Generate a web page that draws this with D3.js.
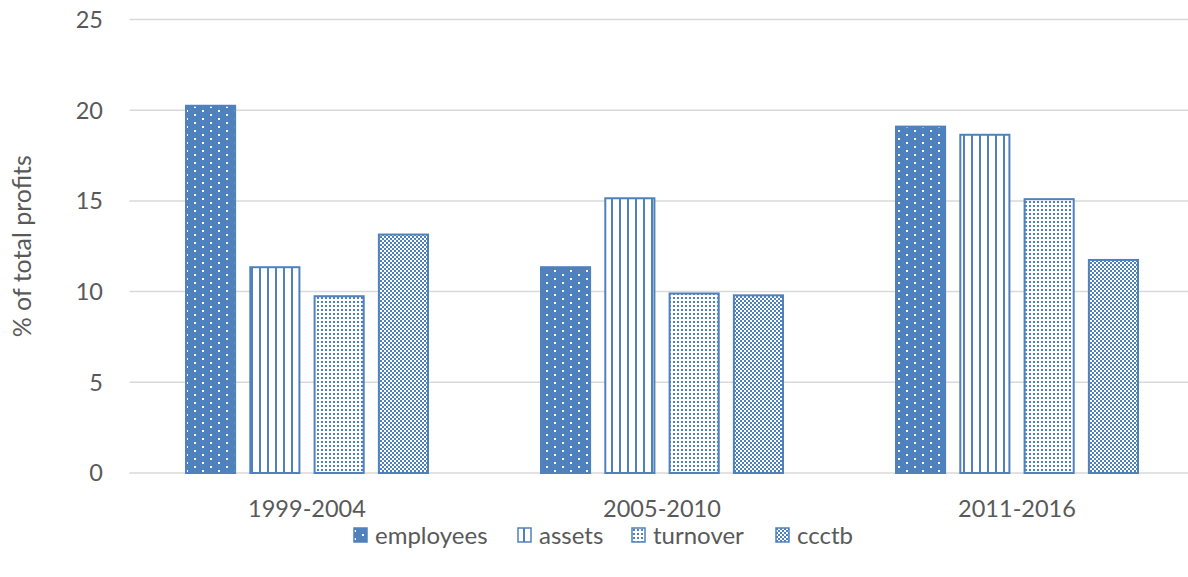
<!DOCTYPE html>
<html><head><meta charset="utf-8">
<script src="https://cdn.jsdelivr.net/npm/d3@7"></script>
<style>body{margin:0;background:#fff}svg{display:block}</style>
</head><body>
<script>
const categories = ["1999-2004", "2005-2010", "2011-2016"];
const seriesNames = ["employees", "assets", "turnover", "ccctb"];
const employees = [20.3, 11.4, 19.15];
const assets = [11.4, 15.2, 18.7];
const turnover = [9.8, 9.95, 15.15];
const ccctb = [13.2, 9.85, 11.8];
const yTicks = [0, 5, 10, 15, 20, 25];
const values = {employees, assets, turnover, ccctb};

(function(){
const W = 1188, H = 577;
const blue = "#4f81bd";
const font = "Lato, 'Open Sans', sans-serif";
const svg = d3.select("body").append("svg").attr("width", W).attr("height", H);
const defs = svg.append("defs");

// patterns
let p = defs.append("pattern").attr("id","p-employees").attr("patternUnits","userSpaceOnUse").attr("width",16).attr("height",8);
p.append("rect").attr("width",16).attr("height",8).attr("fill",blue);
p.append("rect").attr("x",2).attr("y",2).attr("width",2).attr("height",2).attr("fill","#fff");
p.append("rect").attr("x",10).attr("y",6).attr("width",2).attr("height",2).attr("fill","#fff");

p = defs.append("pattern").attr("id","p-assets").attr("patternUnits","userSpaceOnUse").attr("width",8).attr("height",8);
p.append("rect").attr("width",8).attr("height",8).attr("fill","#fff");
p.append("rect").attr("x",3).attr("width",2).attr("height",8).attr("fill",blue);

p = defs.append("pattern").attr("id","p-turnover").attr("patternUnits","userSpaceOnUse").attr("width",4).attr("height",4);
p.append("rect").attr("width",4).attr("height",4).attr("fill","#fff");
p.append("rect").attr("x",1).attr("y",1).attr("width",2).attr("height",2).attr("fill",blue);

p = defs.append("pattern").attr("id","p-ccctb").attr("patternUnits","userSpaceOnUse").attr("width",4).attr("height",4);
p.append("rect").attr("width",4).attr("height",4).attr("fill","#fff");
p.append("rect").attr("x",0).attr("y",0).attr("width",2).attr("height",2).attr("fill",blue);
p.append("rect").attr("x",2).attr("y",2).attr("width",2).attr("height",2).attr("fill",blue);

const mLeft = 129.5, mRight = 1194.5, mTop = 19.5, mBottom = 473;
const x0 = d3.scaleBand().domain(categories).range([mLeft, mRight]).paddingInner(0).paddingOuter(0);
const x1 = d3.scaleBand().domain(seriesNames).range([55.5, x0.bandwidth()-55.5]).paddingInner(0.205).paddingOuter(0);
const y = d3.scaleLinear().domain([0, 25]).range([mBottom, mTop]);

// gridlines
svg.append("g").selectAll("line").data(yTicks).join("line")
  .attr("x1", mLeft).attr("x2", W).attr("y1", d=>y(d)).attr("y2", d=>y(d))
  .attr("stroke", "#d9d9d9").attr("stroke-width", 1.5);

// y tick labels
svg.append("g").selectAll("text").data(yTicks).join("text")
  .attr("x", 103).attr("y", d=>y(d)).attr("dy","0.36em").attr("text-anchor","end")
  .attr("font-family", font).attr("font-size", 23.5).attr("fill","#595959").text(d=>d);

// axis title
svg.append("text").attr("transform", `translate(31,${(mTop+mBottom)/2+0}) rotate(-90)`)
  .attr("text-anchor","middle").attr("font-family", font).attr("font-size", 25).attr("fill","#595959")
  .text("% of total profits");

// bars
const g = svg.append("g");
categories.forEach((c, ci) => {
  g.selectAll(null).data(seriesNames).join("rect")
    .attr("x", s => x0(c) + x1(s) + 1)
    .attr("y", s => y(values[s][ci]) + 1)
    .attr("width", x1.bandwidth() - 2)
    .attr("height", s => mBottom - y(values[s][ci]) - 1)
    .attr("fill", s => `url(#p-${s})`)
    .attr("stroke", blue).attr("stroke-width", 2);
});

// category labels
svg.append("g").selectAll("text").data(categories).join("text")
  .attr("x", d => x0(d) + x0.bandwidth()/2).attr("y", 517).attr("text-anchor","middle")
  .attr("font-family", font).attr("font-size", 23.5).attr("fill","#595959").text(d=>d);

// legend
const legX = [353, 517, 631, 775];
const lg = svg.append("g");
seriesNames.forEach((s, i) => {
  lg.append("rect").attr("x", legX[i]+1).attr("y", 528).attr("width", 13).attr("height", 14)
    .attr("fill", `url(#p-${s})`).attr("stroke", blue).attr("stroke-width", 1.5);
  lg.append("text").attr("x", legX[i] + 22).attr("y", 535).attr("dy","0.36em")
    .attr("font-family", font).attr("font-size", 24).attr("fill","#595959").text(s);
});
})();
</script>
</body></html>
